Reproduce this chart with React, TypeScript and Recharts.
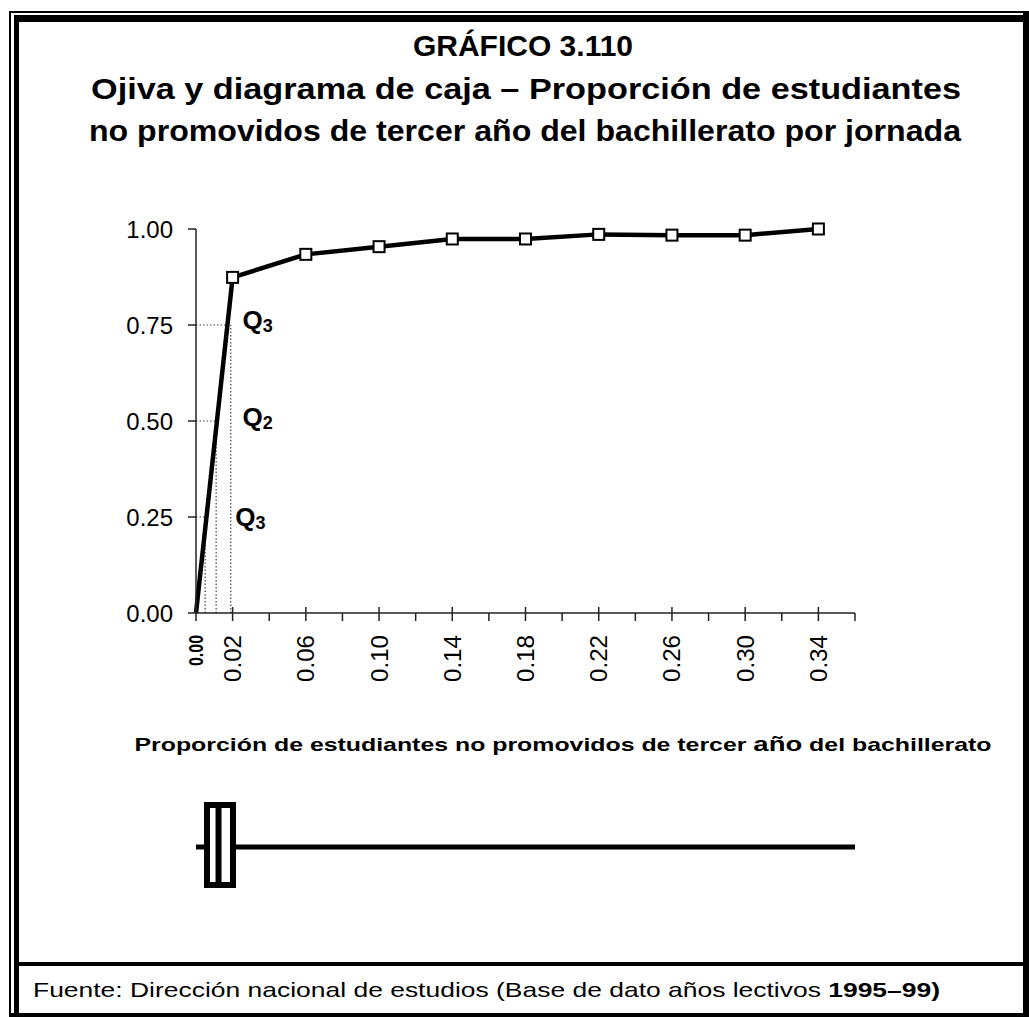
import React from "react";
import {
  LineChart,
  ComposedChart,
  Line,
  XAxis,
  YAxis,
  ReferenceLine,
  ReferenceDot,
  ReferenceArea,
} from "recharts";

// ogive: upper class limit -> cumulative relative frequency
const proportions = [0, 0.02, 0.06, 0.1, 0.14, 0.18, 0.22, 0.26, 0.3, 0.34];
const cumulative = [0, 0.874, 0.934, 0.954, 0.974, 0.974, 0.986, 0.984, 0.984, 1.0];

const xTicks = [0, 0.02, 0.04, 0.06, 0.08, 0.1, 0.12, 0.14, 0.16, 0.18, 0.2, 0.22, 0.24, 0.26, 0.28, 0.3, 0.32, 0.34, 0.36];
const labeledTicks = [0, 0.02, 0.06, 0.1, 0.14, 0.18, 0.22, 0.26, 0.3, 0.34];
const yTicks = [0, 0.25, 0.5, 0.75, 1];

// quartile guides as printed (the lower one is labelled Q3 in the source)
const quartileLevels = [0.25, 0.5, 0.75];
const quartileX = [0.005, 0.011, 0.019];
const quartileNames = ["3", "2", "3"];
const quartileLabelX = [0.0215, 0.0254, 0.0254];
const quartileLabelY = [0.25, 0.51, 0.763];

// box plot: min, Q1, median, Q3, max
const boxStats = [0, 0.006, 0.0123, 0.0202, 0.36];

const FONT = "'Liberation Sans', Arial, Helvetica, sans-serif";
const AXIS = "#222";

const ogive = proportions.map((p, i) => ({ p, cum: cumulative[i] }));

const [bMin, bQ1, bMed, bQ3, bMax] = boxStats;
// whiskers as two separate runs on the box row
const whiskers = [
  { x: bMin, lo: 0.5, hi: null },
  { x: bQ1, lo: 0.5, hi: null },
  { x: bQ3, lo: null, hi: 0.5 },
  { x: bMax, lo: null, hi: 0.5 },
];

function XTick(props: any) {
  const { x, y, payload } = props;
  const v = payload.value;
  const labeled = labeledTicks.includes(v);
  const zero = v === 0;
  return (
    <g>
      <line x1={x} x2={x} y1={labeled ? y - 6 : y} y2={y + 8} stroke={AXIS} strokeWidth={1.5} />
      {labeled && (
        <text
          x={x}
          y={y + 22}
          transform={`rotate(-90 ${x} ${y + 22})`}
          textAnchor="end"
          dominantBaseline="central"
          fontSize={zero ? 20 : 24}
          fontWeight={zero ? "bold" : "normal"}
          fontFamily={FONT}
          textLength={zero ? 31 : 47}
          lengthAdjust="spacingAndGlyphs"
          fill="#000"
        >
          {v.toFixed(2)}
        </text>
      )}
    </g>
  );
}

function SquareDot(props: any) {
  const { cx, cy, index } = props;
  if (index === 0) return <g key="dot-0" />;
  return (
    <rect
      key={`dot-${index}`}
      x={cx - 5.5}
      y={cy - 5.5}
      width={11}
      height={11}
      fill="#fff"
      stroke="#000"
      strokeWidth={2}
    />
  );
}

function Bar(props: { left: number; top: number; w: number; h: number }) {
  return (
    <div
      style={{
        position: "absolute",
        left: props.left,
        top: props.top,
        width: props.w,
        height: props.h,
        background: "#000",
      }}
    />
  );
}

export default function App() {
  return (
    <div
      style={{
        position: "absolute",
        left: 0,
        top: 0,
        width: 1029,
        height: 1017,
        background: "#fff",
        fontFamily: FONT,
        overflow: "hidden",
      }}
    >
      {/* frame */}
      <Bar left={9} top={11} w={2} h={1006} />
      <Bar left={14} top={15} w={5} h={1002} />
      <Bar left={9} top={11} w={1014} h={2} />
      <Bar left={14} top={15} w={1015} h={7} />
      <Bar left={1023} top={11} w={6} h={1006} />
      <Bar left={14} top={962} w={1015} h={4} />
      <Bar left={9} top={1013} w={1020} h={4} />

      <svg width={1029} height={1017} style={{ position: "absolute", left: 0, top: 0 }}>
        <g fontFamily={FONT} fontWeight="bold" fill="#000" textAnchor="middle">
          <text x={523} y={56} fontSize={30}>GRÁFICO 3.110</text>
          <text x={526} y={99} fontSize={30} textLength={870} lengthAdjust="spacingAndGlyphs">
            Ojiva y diagrama de caja – Proporción de estudiantes
          </text>
          <text x={525} y={141} fontSize={30} textLength={872} lengthAdjust="spacingAndGlyphs">
            no promovidos de tercer año del bachillerato por jornada
          </text>
          <text x={563} y={751} fontSize={19} textLength={857} lengthAdjust="spacingAndGlyphs">
            Proporción de estudiantes no promovidos de tercer <tspan fontSize={21}>año</tspan> del bachillerato
          </text>
        </g>
        <text
          x={33}
          y={997}
          fontFamily={FONT}
          fontSize={21}
          fill="#000"
          textLength={907}
          lengthAdjust="spacingAndGlyphs"
        >
          Fuente: Dirección nacional de estudios (Base de dato años lectivos <tspan fontWeight="bold">1995–99)</tspan>
        </text>
      </svg>

      <div style={{ position: "absolute", left: 0, top: 0 }}>
        <LineChart width={1029} height={720} data={ogive} margin={{ top: 229, right: 174, bottom: 0, left: 0 }}>
          <XAxis
            type="number"
            dataKey="p"
            domain={[0, 0.36]}
            ticks={xTicks}
            interval={0}
            height={107}
            tickSize={0}
            tickMargin={0}
            tickLine={false}
            tick={<XTick />}
            axisLine={{ stroke: AXIS, strokeWidth: 1.5 }}
          />
          <YAxis
            type="number"
            domain={[0, 1]}
            ticks={yTicks}
            width={196}
            tickSize={8}
            tickMargin={15}
            tickFormatter={(v: number) => v.toFixed(2)}
            tick={{ fontSize: 24, fill: "#000", fontFamily: FONT }}
            tickLine={{ stroke: AXIS, strokeWidth: 1.5 }}
            axisLine={{ stroke: AXIS, strokeWidth: 1.5 }}
          />
          {quartileLevels.map((lvl, i) => (
            <ReferenceLine
              key={`h-${i}`}
              segment={[{ x: 0, y: lvl }, { x: quartileX[i], y: lvl }]}
              stroke="#444"
              strokeWidth={1.2}
              strokeDasharray="1.5 2"
            />
          ))}
          {quartileLevels.map((lvl, i) => (
            <ReferenceLine
              key={`v-${i}`}
              segment={[{ x: quartileX[i], y: 0 }, { x: quartileX[i], y: lvl }]}
              stroke="#444"
              strokeWidth={1.2}
              strokeDasharray="1.5 2"
            />
          ))}
          {quartileNames.map((n, i) => (
            <ReferenceDot
              key={`q-${i}`}
              x={quartileLabelX[i]}
              y={quartileLabelY[i]}
              r={0}
              shape={(p: any) => (
                <text
                  x={p.cx}
                  y={p.cy}
                  dominantBaseline="central"
                  fontFamily={FONT}
                  fontWeight="bold"
                  fontSize={26}
                  fill="#000"
                >
                  Q
                  <tspan fontSize={18} dy={6}>
                    {n}
                  </tspan>
                </text>
              )}
            />
          ))}
          <Line
            type="linear"
            dataKey="cum"
            stroke="#000"
            strokeWidth={4.5}
            dot={<SquareDot />}
            isAnimationActive={false}
          />
        </LineChart>
      </div>

      <div style={{ position: "absolute", left: 0, top: 797 }}>
        <ComposedChart
          width={1029}
          height={100}
          data={whiskers}
          margin={{ top: 0, right: 174, bottom: 0, left: 196 }}
        >
          <XAxis type="number" dataKey="x" domain={[0, 0.36]} hide />
          <YAxis type="number" domain={[0, 1]} hide />
          <Line dataKey="lo" stroke="#000" strokeWidth={5} dot={false} connectNulls={false} isAnimationActive={false} />
          <Line dataKey="hi" stroke="#000" strokeWidth={5} dot={false} connectNulls={false} isAnimationActive={false} />
          <ReferenceArea
            x1={bQ1}
            x2={bQ3}
            y1={0.12}
            y2={0.92}
            fill="#fff"
            fillOpacity={1}
            stroke="#000"
            strokeWidth={6}
          />
          <ReferenceLine
            segment={[{ x: bMed, y: 0.12 }, { x: bMed, y: 0.92 }]}
            stroke="#000"
            strokeWidth={6}
          />
        </ComposedChart>
      </div>
    </div>
  );
}
